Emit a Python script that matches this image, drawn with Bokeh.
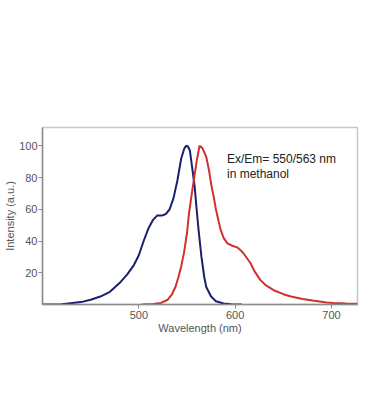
from bokeh.plotting import figure
from bokeh.models import Range1d, FixedTicker, Label
from bokeh.embed import file_html
from bokeh.resources import INLINE

# Absorption (excitation) spectrum
abs_wl = [400, 420, 440, 450, 460, 470, 480, 488, 495, 500, 505, 510, 515, 519, 524,
          528, 532, 536, 540, 544, 547, 549, 551, 553, 555, 558, 560, 562, 565, 568,
          570, 575, 580, 588, 596, 607]
abs_val = [0, 0.2, 1.5, 3, 5, 8, 13.5, 19, 25, 31, 40, 48, 53.5, 56, 56,
           57, 60, 67, 78, 92, 98, 100, 99.5, 97, 88, 74, 60, 47, 30, 17,
           11, 5, 2, 0.6, 0.2, 0]

# Emission spectrum
em_wl = [503, 515, 523, 530, 534, 538, 541, 544, 547, 550, 552, 555, 558, 560, 563,
         566, 570, 573, 575, 578, 580, 583, 585, 588, 592, 597, 602, 606, 609, 613,
         616, 620, 626, 632, 640, 650, 658, 670, 682, 695, 702, 715, 727]
em_val = [0, 0.3, 1, 3, 6, 11, 17, 24, 33, 45, 57, 70, 82, 90, 100,
          98.5, 93, 84, 76, 67, 60, 52, 47, 42, 38.5, 37, 36, 34, 32, 28.5,
          26, 21, 15.5, 12, 9, 6.5, 5, 3.5, 2.3, 1.3, 1, 0.6, 0.5]

x_ticks = [500, 600, 700]
y_ticks = [20, 40, 60, 80, 100]
note_lines = ["Ex/Em= 550/563 nm", "in methanol"]

FONT = "Liberation Sans"

p = figure(output_backend="svg", toolbar_location=None,
           frame_width=315, frame_height=177,
           min_border_left=42, min_border_right=8, min_border_top=127, min_border_bottom=90,
           x_range=Range1d(400, 727), y_range=Range1d(0, 111.5))

p.line(abs_wl, abs_val, line_color="#1c1f6b", line_width=2)
p.line(em_wl, em_val, line_color="#d0312d", line_width=2)

p.xgrid.visible = False
p.ygrid.visible = False
p.outline_line_color = "#c8c8c8"
p.outline_line_width = 1.5

for ax in (p.xaxis[0], p.yaxis[0]):
    ax.axis_line_color = "#8c8c8c"
    ax.axis_line_width = 1.5
    ax.major_tick_line_color = "#8c8c8c"
    ax.major_tick_in = 0
    ax.major_tick_out = 4
    ax.minor_tick_line_color = None
    ax.major_label_text_font = FONT
    ax.major_label_text_font_size = "11px"
    ax.major_label_text_color = "#555555"
    ax.axis_label_text_font = FONT
    ax.axis_label_text_font_size = "11px"
    ax.axis_label_text_font_style = "normal"
    ax.axis_label_text_color = "#555555"
    ax.major_label_standoff = 1
    ax.axis_label_standoff = 0

p.xaxis[0].ticker = FixedTicker(ticks=x_ticks)
p.yaxis[0].ticker = FixedTicker(ticks=y_ticks)
p.xaxis[0].axis_label = "Wavelength (nm)"
p.yaxis[0].axis_label = "Intensity (a.u.)"
p.xaxis[0].major_label_standoff = 2

ys = [91.8, 82.3]
for txt, yy in zip(note_lines, ys):
    p.add_layout(Label(x=591.5, y=yy, text=txt, text_font=FONT, text_font_size="12px",
                       text_color="#222222", text_baseline="alphabetic"))

open("out.html", "w").write(file_html(p, INLINE))
